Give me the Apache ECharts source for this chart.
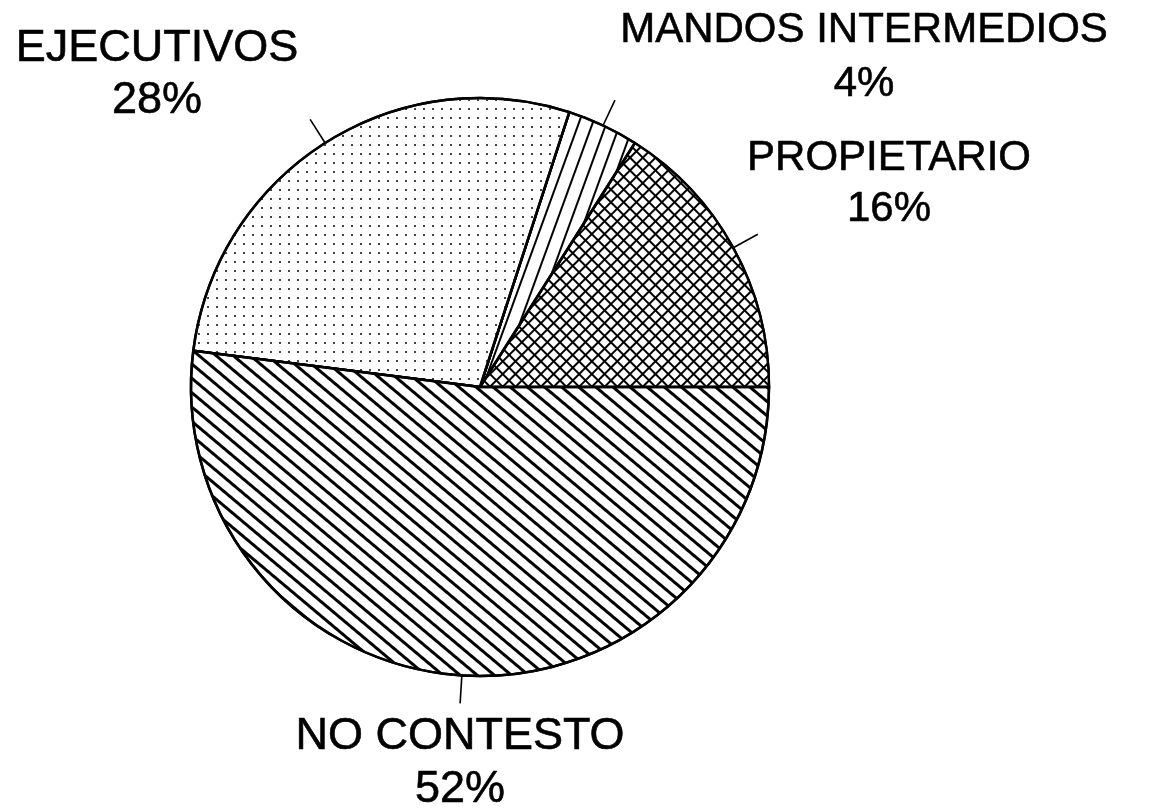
<!DOCTYPE html>
<html>
<head>
<meta charset="utf-8">
<script src="https://cdn.jsdelivr.net/npm/echarts@6/dist/echarts.min.js"></script>
<style>
  html, body { margin: 0; padding: 0; background: #fff; }
  #chart { width: 1170px; height: 808px; }
</style>
</head>
<body>
<div id="chart"></div>
<script>
// ---- data ----
const categories = ['PROPIETARIO', 'MANDOS INTERMEDIOS', 'EJECUTIVOS', 'NO CONTESTO'];
const values = [16, 4, 28, 52];

// ---- layout / style (not data) ----
const labelCenters = [[889, 184], [864, 57], [157, 75], [460, 763]];
const labelSizes = [42, 42, 45, 45];
const lineHeights = [51, 54, 52, 53];

const decals = [
  // cross-hatch
  { symbol: 'rect', symbolSize: 1, color: '#ffffff', backgroundColor: '#000000',
    dashArrayX: [6.2, 1.7], dashArrayY: [6.2, 1.7], rotation: Math.PI / 4 },
  // wide steep stripes
  { symbol: 'rect', symbolSize: 1, color: '#000000',
    dashArrayX: [1, 0], dashArrayY: [2, 10.5], rotation: -70 * Math.PI / 180 },
  // fine dots
  { symbol: 'rect', symbolSize: 1, color: '#444444',
    dashArrayX: [1.6, 6.1], dashArrayY: [1.6, 6.1], rotation: 0 },
  // diagonal hatch
  { symbol: 'rect', symbolSize: 1, color: '#000000',
    dashArrayX: [1, 0], dashArrayY: [2.4, 7.6], rotation: 40 * Math.PI / 180 }
];

const chart = echarts.init(document.getElementById('chart'), null, { renderer: 'canvas' });

const seriesData = categories.map((name, i) => ({
  name: name,
  value: values[i],
  itemStyle: { color: '#ffffff', decal: decals[i] },
  label: { fontSize: labelSizes[i], lineHeight: lineHeights[i] }
}));

chart.setOption({
  animation: false,
  backgroundColor: '#ffffff',
  series: [{
    type: 'pie',
    center: [480, 387],
    radius: 289,
    startAngle: 0,
    clockwise: false,
    avoidLabelOverlap: false,
    data: seriesData,
    itemStyle: { borderColor: '#000000', borderWidth: 2.5 },
    emphasis: { disabled: true },
    label: {
      show: true,
      position: 'outside',
      formatter: '{b}\n{c}%',
      color: '#000000',
      textBorderColor: '#000000',
      textBorderWidth: 0.6,
      fontFamily: '"Liberation Sans", Arial, Helvetica, sans-serif',
      fontWeight: 'normal',
      align: 'center'
    },
    labelLine: {
      show: true,
      length: 28,
      length2: 0,
      smooth: false,
      lineStyle: { color: '#000000', width: 1.6 }
    },
    labelLayout: function (params) {
      const c = labelCenters[params.dataIndex];
      return {
        x: c[0],
        y: c[1],
        align: 'center',
        verticalAlign: 'middle',
        labelLinePoints: params.labelLinePoints
      };
    }
  }]
});
</script>
</body>
</html>
